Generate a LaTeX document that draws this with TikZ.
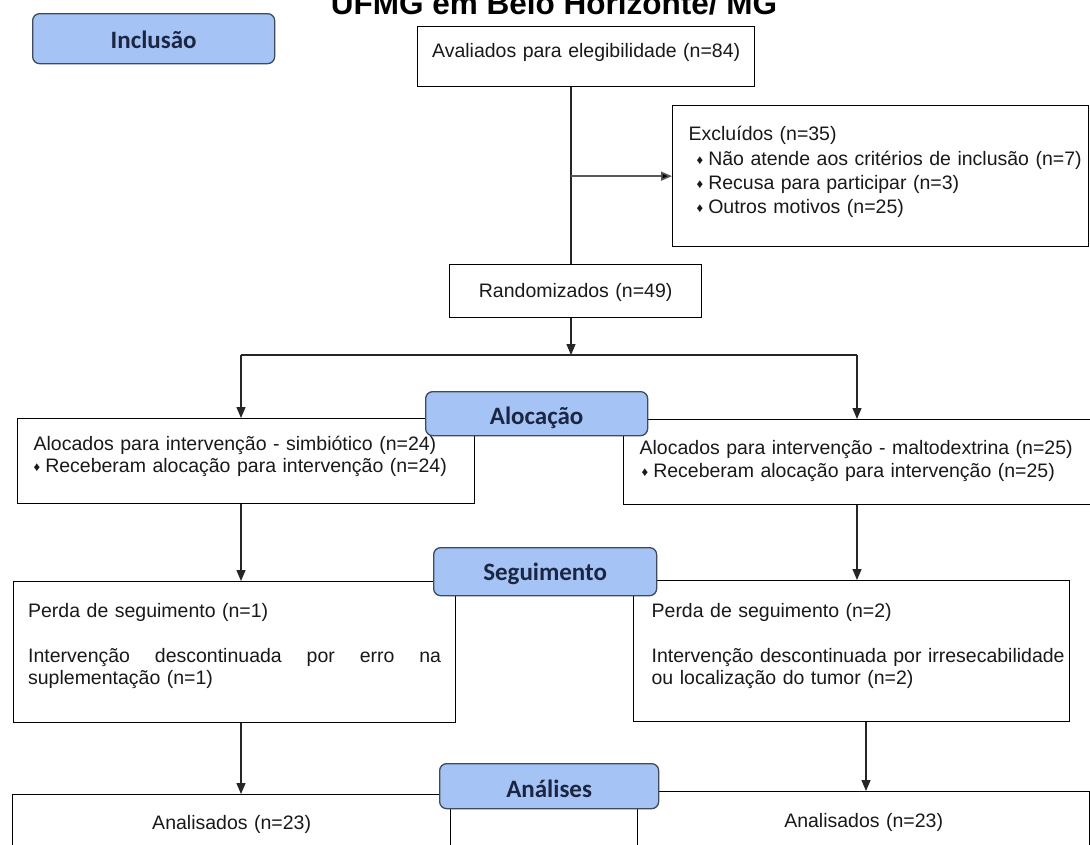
\documentclass[tikz,border=0pt]{standalone}
\usepackage{fontspec}
\setmainfont{Liberation Sans}
\newfontfamily\lblfont{Carlito}
\usetikzlibrary{arrows.meta,calc}
\definecolor{lblfill}{RGB}{166,195,245}
\definecolor{lbldraw}{RGB}{62,74,94}
\definecolor{lbltext}{RGB}{27,38,66}
\definecolor{txt}{RGB}{25,25,25}
\newcommand\dbul{\raisebox{1pt}{\fontsize{13}{13}\selectfont ♦}\hspace{5pt}}
\tikzset{
  box/.style={draw=black, line width=1.3pt, fill=white, inner ysep=0pt, anchor=north west,
    font=\fontsize{19.5}{25}\selectfont, text=txt},
  lbl/.style={draw=lbldraw, fill=lblfill, line width=1.3pt, rounded corners=7pt, inner sep=0pt,
    anchor=north west, font=\lblfont\bfseries\fontsize{25}{30}\selectfont, text=lbltext, align=center},
  arr/.style={line width=1.3pt, draw=black!85, -{Triangle[length=11pt,width=9pt]}},
  conn/.style={line width=1.3pt, draw=black!85},
}
\begin{document}
\begin{tikzpicture}[x=1pt,y=-1pt]
\useasboundingbox (0,0) rectangle (1090,844);
\fill[white] (0,0) rectangle (1090,844);

\node[font=\bfseries\fontsize{31.5}{32}\selectfont, anchor=base, inner sep=0pt] (title) at (554,14) {UFMG em Belo Horizonte/ MG};

% boxes
\node[box, align=center, inner xsep=0pt, text width=337pt, text height=31pt, text depth=29pt] (aval) at (417,26)
  {Avaliados para elegibilidade (n=84)};
\node[box, align=left, inner xsep=16pt, text width=384pt, text height=35pt, text depth=106pt] (excl) at (672,105)
  {\mbox{Excluídos (n=35)}\\
   \mbox{\hspace*{8pt}\dbul Não atende aos critérios de inclusão (n=7)}\\[-1pt]
   \mbox{\hspace*{8pt}\dbul Recusa para participar (n=3)}\\[-1pt]
   \mbox{\hspace*{8pt}\dbul Outros motivos (n=25)}};
\node[box, align=center, inner xsep=0pt, text width=252pt, text height=33pt, text depth=20pt] (rand) at (449,264)
  {Randomizados (n=49)};

\node[box, align=left, inner xsep=16pt, text width=425pt, text height=32pt, text depth=53pt] (alocL) at (17,418)
  {\mbox{Alocados para intervenção - simbiótico (n=24)}\\[-3pt]
   \mbox{\dbul Receberam alocação para intervenção (n=24)}};
\node[box, align=left, inner xsep=16pt, text width=437pt, text height=35pt, text depth=50pt] (alocR) at (623,419)
  {\mbox{Alocados para intervenção - maltodextrina (n=25)}\\[-2pt]
   \mbox{\hspace*{2pt}\dbul Receberam alocação para intervenção (n=25)}};

\node[box, align=left, inner xsep=14.5pt, text width=413pt, text height=36pt, text depth=105pt] (perdaL) at (13,581)
  {\mbox{Perda de seguimento (n=1)}\\[20pt]
   \makebox[413pt][l]{Intervenção\hfill descontinuada\hfill por\hfill erro\hfill na}\\[-3pt]
   \mbox{suplementação (n=1)}};
\node[box, align=left, inner xsep=18pt, text width=400pt, text height=37pt, text depth=104pt] (perdaR) at (633,580)
  {\mbox{Perda de seguimento (n=2)}\\[20pt]
   \mbox{Intervenção descontinuada por irresecabilidade}\\[-3pt]
   \mbox{ou localização do tumor (n=2)}};

\node[box, align=center, inner xsep=0pt, text width=438pt, text height=35pt, text depth=40pt] (anaL) at (12,794)
  {Analisados (n=23)};
\node[box, align=center, inner xsep=0pt, text width=452pt, text height=36pt, text depth=40pt] (anaR) at (637,791)
  {Analisados (n=23)};

% labels
\node[lbl, minimum width=242pt, text height=35pt, text depth=15pt] (incl) at (32,13) {Inclusão};
\node[lbl, minimum width=222pt, text height=33pt, text depth=11pt] (aloc) at (425,391) {Alocação};
\node[lbl, minimum width=223pt, text height=33pt, text depth=15pt] (seg) at (433,547) {Seguimento};
\node[lbl, minimum width=219pt, text height=34pt, text depth=11pt] (anal) at (439,763) {Análises};

% connectors
\coordinate (spine) at (571,0);
\coordinate (lx) at (241,0);
\coordinate (rx) at (857,0);
\coordinate (rx2) at (866,0);
\coordinate (lsplit) at (241,355);
\coordinate (rsplit) at (857,355);
\coordinate (split) at (571,355);

\draw[conn] (spine |- aval.south) -- (spine |- rand.north);
\draw[line width=1.6pt, draw=black!65, -{Triangle[length=11pt,width=9pt,fill=black]}] (spine |- excl.west) -- (excl.west);
\draw[arr] (spine |- rand.south) -- (split);
\draw[conn] (lsplit) -- (rsplit);
\draw[arr] (lsplit) -- (lx |- alocL.north);
\draw[arr] (rsplit) -- (rx |- alocR.north);
\draw[arr] (lx |- alocL.south) -- (lx |- perdaL.north);
\draw[arr] (rx |- alocR.south) -- (rx |- perdaR.north);
\draw[arr] (lx |- perdaL.south) -- (lx |- anaL.north);
\draw[arr] (rx2 |- perdaR.south) -- (rx2 |- anaR.north);
\end{tikzpicture}
\end{document}
